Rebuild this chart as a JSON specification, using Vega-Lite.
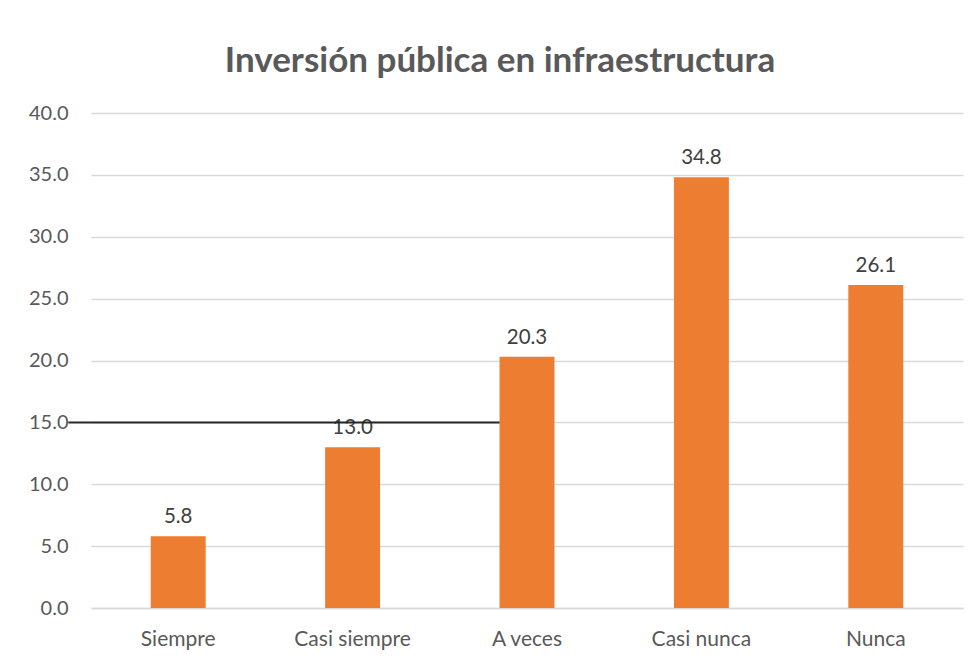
{
  "$schema": "https://vega.github.io/schema/vega-lite/v6.json",
  "width": 872,
  "height": 495,
  "autosize": {"type": "none"},
  "padding": {"left": 91, "top": 113, "right": 16, "bottom": 58},
  "background": "white",
  "config": {"view": {"stroke": null}, "font": "Lato"},
  "title": {
    "text": "Inversión pública en infraestructura",
    "font": "Lato",
    "fontSize": 35,
    "fontWeight": "bold",
    "color": "#595959",
    "anchor": "middle",
    "offset": 24,
    "dx": -27
  },
  "datasets": {
    "barras": [
      {"categoria": "Siempre", "porcentaje": 5.8},
      {"categoria": "Casi siempre", "porcentaje": 13.0},
      {"categoria": "A veces", "porcentaje": 20.3},
      {"categoria": "Casi nunca", "porcentaje": 34.8},
      {"categoria": "Nunca", "porcentaje": 26.1}
    ],
    "linea": [
      {"desde": "Siempre", "hasta": "A veces", "valor": 15}
    ]
  },
  "layer": [
    {
      "data": {"name": "barras"},
      "mark": {"type": "bar", "color": "#ED7D31"},
      "encoding": {
        "x": {
          "field": "categoria",
          "type": "nominal",
          "sort": null,
          "scale": {"paddingInner": 0.685, "paddingOuter": 0.3425},
          "axis": {
            "title": null,
            "labelAngle": 0,
            "labelFontSize": 21,
            "labelColor": "#595959",
            "labelFont": "Lato",
            "labelPadding": 20,
            "ticks": false,
            "domain": true,
            "domainColor": "#d9d9d9",
            "domainWidth": 1.5
          }
        },
        "y": {
          "field": "porcentaje",
          "type": "quantitative",
          "scale": {"domain": [0, 40]},
          "axis": {
            "title": null,
            "values": [0, 5, 10, 15, 20, 25, 30, 35, 40],
            "format": ".1f",
            "labelFontSize": 20,
            "labelColor": "#595959",
            "labelFont": "Lato",
            "labelPadding": 23,
            "ticks": false,
            "domain": false,
            "grid": true,
            "gridColor": "#d9d9d9",
            "gridWidth": 1.5
          }
        }
      }
    },
    {
      "data": {"name": "barras"},
      "mark": {"type": "text", "baseline": "bottom", "dy": -9, "fontSize": 20.5, "color": "#404040", "font": "Lato"},
      "encoding": {
        "x": {"field": "categoria", "type": "nominal", "sort": null},
        "y": {"field": "porcentaje", "type": "quantitative"},
        "text": {"field": "porcentaje", "type": "quantitative", "format": ".1f"}
      }
    },
    {
      "data": {"name": "linea"},
      "mark": {"type": "rule", "color": "#262626", "strokeWidth": 2},
      "encoding": {
        "x": {"field": "desde", "type": "nominal", "sort": null, "bandPosition": -1.5},
        "x2": {"field": "hasta", "bandPosition": 0},
        "y": {"field": "valor", "type": "quantitative"}
      }
    }
  ]
}
